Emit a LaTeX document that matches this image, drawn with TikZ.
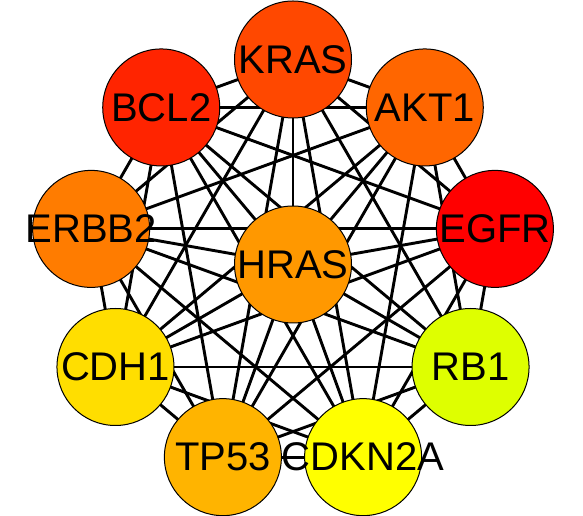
\documentclass[tikz,border=0pt]{standalone}
\usepackage{fontspec}
\setmainfont{Liberation Sans}
\usetikzlibrary{calc,backgrounds}
\definecolor{cKRAS}{RGB}{255,72,0}
\definecolor{cBCL}{RGB}{255,36,0}
\definecolor{cAKT}{RGB}{255,102,0}
\definecolor{cEGFR}{RGB}{255,0,0}
\definecolor{cERBB}{RGB}{255,124,0}
\definecolor{cHRAS}{RGB}{255,152,0}
\definecolor{cCDH}{RGB}{255,222,0}
\definecolor{cRB}{RGB}{222,255,0}
\definecolor{cTP}{RGB}{255,180,0}
\definecolor{cCDK}{RGB}{255,255,0}
\newcommand{\glabel}[1]{\makebox[0pt][c]{#1}}
\tikzset{
  gene/.style={circle, draw=black, line width=1pt, minimum size=117pt, inner sep=0pt,
    font=\fontsize{40}{48}\selectfont, text=black},
  link/.style={line width=2.9pt, black}
}
\begin{document}
\begin{tikzpicture}[x=1pt,y=1pt]
\useasboundingbox (0,0) rectangle (583,516);
\coordinate (c) at (293,251.5);
\node[gene, fill=cKRAS] (KRAS) at ($(c)+(90:205pt)$) {\glabel{KRAS}};
\node[gene, fill=cAKT] (AKT1) at ($(c)+(50:205pt)$) {\glabel{AKT1}};
\node[gene, fill=cEGFR] (EGFR) at ($(c)+(10:205pt)$) {\glabel{EGFR}};
\node[gene, fill=cRB] (RB1) at ($(c)+(-30:205pt)$) {\glabel{RB1}};
\node[gene, fill=cBCL] (BCL2) at ($(c)+(130:205pt)$) {\glabel{BCL2}};
\node[gene, fill=cERBB] (ERBB2) at ($(c)+(170:205pt)$) {\glabel{ERBB2}};
\node[gene, fill=cCDH] (CDH1) at ($(c)+(-150:205pt)$) {\glabel{CDH1}};
\node[gene, fill=cTP] (TP53) at ($(c)+(-110:205pt)$) {\glabel{TP53}};
\node[gene, fill=cCDK] (CDKN2A) at ($(c)+(-70:205pt)$) {\glabel{CDKN2A}};
\node[gene, fill=cHRAS] (HRAS) at (c) {\glabel{HRAS}};
\begin{pgfonlayer}{background}
\foreach \u [count=\i] in {KRAS,AKT1,EGFR,RB1,CDKN2A,TP53,CDH1,ERBB2,BCL2,HRAS}{
  \foreach \v [count=\j] in {KRAS,AKT1,EGFR,RB1,CDKN2A,TP53,CDH1,ERBB2,BCL2,HRAS}{
    \ifnum\j>\i
      \draw[link] (\u.center) -- (\v.center);
    \fi
  }
}
\end{pgfonlayer}
\end{tikzpicture}
\end{document}
